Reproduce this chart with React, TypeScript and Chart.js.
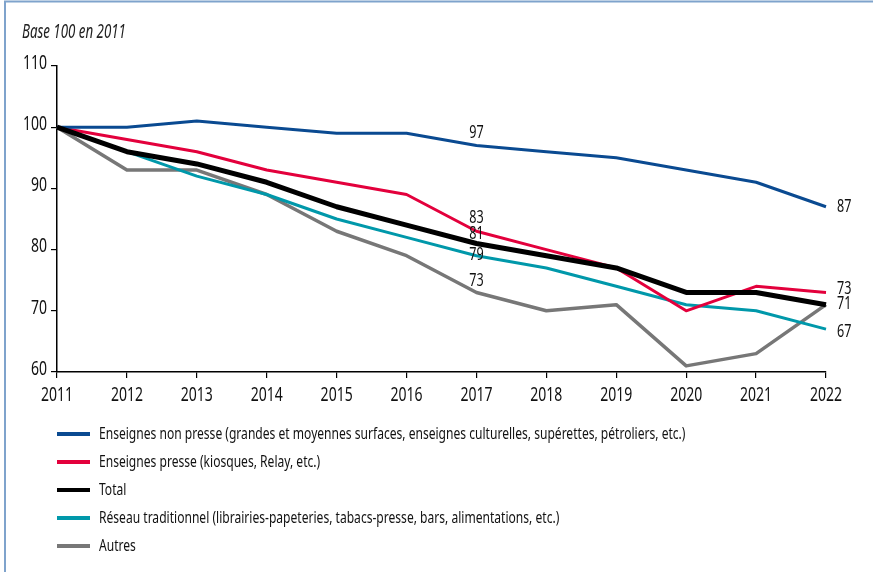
import React, { useEffect, useRef } from "react";
import { Chart, registerables } from "chart.js";

Chart.register(...registerables);

const years = ["2011", "2012", "2013", "2014", "2015", "2016", "2017", "2018", "2019", "2020", "2021", "2022"];
const nonPresse = [100, 100, 101, 100, 99, 99, 97, 96, 95, 93, 91, 87];
const presse = [100, 98, 96, 93, 91, 89, 83, 80, 77, 70, 74, 73];
const total = [100, 96, 94, 91, 87, 84, 81, 79, 77, 73, 73, 71];
const reseau = [100, 96, 92, 89, 85, 82, 79, 77, 74, 71, 70, 67];
const autres = [100, 93, 93, 89, 83, 79, 73, 70, 71, 61, 63, 71];
const seriesNames = [
  "Enseignes non presse (grandes et moyennes surfaces, enseignes culturelles, supérettes, pétroliers, etc.)",
  "Enseignes presse (kiosques, Relay, etc.)",
  "Total",
  "Réseau traditionnel (librairies-papeteries, tabacs-presse, bars, alimentations, etc.)",
  "Autres",
];
const yMin = 60;
const yMax = 110;
const yStep = 10;
const subtitle = "Base 100 en 2011";

const FONT = '"Noto Sans", "DejaVu Sans", sans-serif';
const SX = 0.7; // horizontal condensing of text

// label placement (style only)
const labelSpots = [
  { ds: 0, i: 6, dx: 0, dy: -13, align: "center" },
  { ds: 1, i: 6, dx: 0, dy: -13, align: "center" },
  { ds: 2, i: 6, dx: 0, dy: -10, align: "center" },
  { ds: 3, i: 6, dx: 0, dy: -1, align: "center" },
  { ds: 4, i: 6, dx: 0, dy: -12, align: "center" },
  { ds: 0, i: 11, dx: 11, dy: 0, align: "left" },
  { ds: 1, i: 11, dx: 11, dy: -4, align: "left" },
  { ds: 2, i: 11, dx: 11, dy: -1, align: "left" },
  { ds: 3, i: 11, dx: 11, dy: 3, align: "left" },
];

function drawText(ctx: any, text: string, x: number, y: number, align: string, font: string, color: string, sx = SX) {
  ctx.save();
  ctx.font = font;
  ctx.fillStyle = color;
  ctx.textBaseline = "middle";
  ctx.textAlign = "left";
  const w = ctx.measureText(text).width * sx;
  const left = align === "left" ? x : align === "right" ? x - w : x - w / 2;
  ctx.translate(left, y);
  ctx.scale(sx, 1);
  ctx.fillText(text, 0, 0);
  ctx.restore();
}

const decorPlugin = {
  id: "decor",
  beforeDraw(chart: any) {
    const ctx = chart.ctx;
    ctx.save();
    ctx.fillStyle = "#ffffff";
    ctx.fillRect(0, 0, chart.width, chart.height);
    ctx.strokeStyle = "#7fa3cc";
    ctx.lineWidth = 2;
    ctx.beginPath();
    ctx.moveTo(5, chart.height);
    ctx.lineTo(5, 1.5);
    ctx.lineTo(chart.width, 1.5);
    ctx.stroke();
    ctx.restore();
    drawText(ctx, subtitle, 22, 33, "left", `italic 19px ${FONT}`, "#222");
  },
  afterDatasetsDraw(chart: any) {
    const ctx = chart.ctx;
    const xs = chart.scales.x;
    const ys = chart.scales.y;
    // tick labels
    xs.ticks.forEach((t: any, k: number) => {
      drawText(ctx, String(xs.getLabelForValue(t.value)), xs.getPixelForTick(k), 395, "center", `20px ${FONT}`, "#111");
    });
    ys.ticks.forEach((t: any) => {
      drawText(ctx, String(t.value), xs.left - 10, ys.getPixelForValue(t.value) - 3, "right", `20px ${FONT}`, "#111");
    });
    // value labels
    labelSpots.forEach((s) => {
      const v = chart.data.datasets[s.ds].data[s.i];
      const x = xs.getPixelForValue(s.i) + s.dx;
      const y = ys.getPixelForValue(v) + s.dy;
      drawText(ctx, String(v), x, y, s.align, `18px ${FONT}`, "#111");
    });
    // legend
    const lx = xs.left;
    let ly = 434;
    chart.data.datasets.forEach((d: any) => {
      ctx.save();
      ctx.strokeStyle = d.borderColor;
      ctx.lineWidth = 4;
      ctx.beginPath();
      ctx.moveTo(lx, ly);
      ctx.lineTo(lx + 33, ly);
      ctx.stroke();
      ctx.restore();
      drawText(ctx, d.label, lx + 42, ly, "left", `17px ${FONT}`, "#111", 0.71);
      ly += 28;
    });
  },
};

export default function App() {
  const ref = useRef<HTMLCanvasElement | null>(null);
  useEffect(() => {
    if (!ref.current) return;
    const colors = ["#0a4a91", "#e3003c", "#000000", "#0098aa", "#777777"];
    const widths = [3, 3, 5, 3, 3.5];
    const values = [nonPresse, presse, total, reseau, autres];
    const chart = new Chart(ref.current, {
      type: "line",
      data: {
        labels: years,
        datasets: values.map((v, k) => ({
          label: seriesNames[k],
          data: v,
          borderColor: colors[k],
          backgroundColor: colors[k],
          borderWidth: widths[k],
          pointRadius: 0,
          tension: 0,
          borderJoinStyle: "round" as const,
          borderCapStyle: "butt" as const,
          order: k === 2 ? 0 : 1,
        })),
      },
      options: {
        animation: false,
        responsive: false,
        maintainAspectRatio: false,
        layout: { padding: { left: 0, right: 47, top: 66, bottom: 170 } },
        plugins: {
          legend: { display: false },
          tooltip: { enabled: false },
          title: { display: false },
        },
        scales: {
          x: {
            type: "category",
            offset: false,
            grid: { display: true, drawOnChartArea: false, drawTicks: true, tickLength: 6, color: "#000", lineWidth: 1.2 },
            border: { display: true, color: "#000", width: 1.5 },
            ticks: { display: false, maxRotation: 0, autoSkip: false },
            afterFit: (s: any) => {
              s.height = 30;
            },
          },
          y: {
            min: yMin,
            max: yMax,
            grid: { display: true, drawOnChartArea: false, drawTicks: true, tickLength: 6, color: "#000", lineWidth: 1.2 },
            border: { display: true, color: "#000", width: 1.5 },
            ticks: { display: false, stepSize: yStep },
            afterFit: (s: any) => {
              s.width = 57;
            },
          },
        },
      },
      plugins: [decorPlugin],
    });
    return () => chart.destroy();
  }, []);
  return (
    <div style={{ position: "fixed", left: 0, top: 0, width: 873, height: 572, background: "#fff" }}>
      <canvas ref={ref} width={873} height={572} style={{ display: "block", width: 873, height: 572 }} />
    </div>
  );
}
